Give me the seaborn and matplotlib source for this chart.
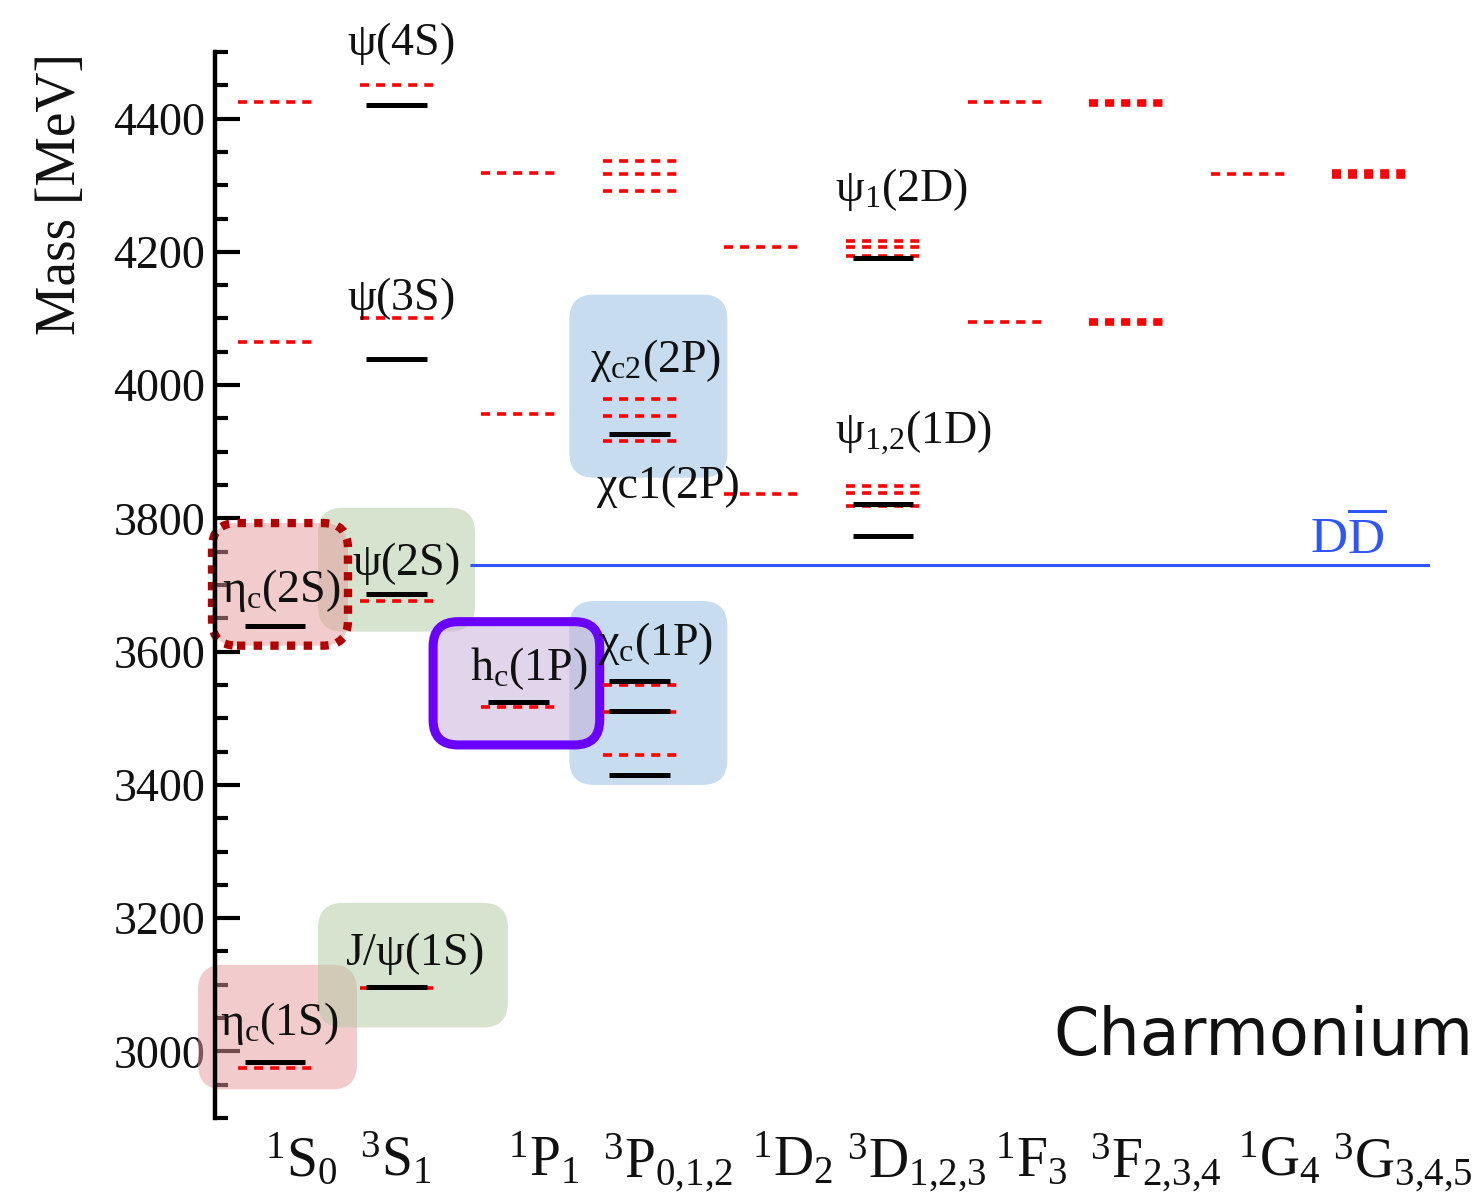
import numpy as np
import pandas as pd
import matplotlib
matplotlib.use("Agg")
import matplotlib.pyplot as plt
import seaborn as sns
from matplotlib.patches import FancyBboxPatch
from matplotlib.ticker import MultipleLocator, FixedLocator

# ---------------- data ----------------
col_labels = [r'$^{1}\mathrm{S}_{0}$', r'$^{3}\mathrm{S}_{1}$', r'$^{1}\mathrm{P}_{1}$',
              r'$^{3}\mathrm{P}_{0{,}1{,}2}$', r'$^{1}\mathrm{D}_{2}$', r'$^{3}\mathrm{D}_{1{,}2{,}3}$',
              r'$^{1}\mathrm{F}_{3}$', r'$^{3}\mathrm{F}_{2{,}3{,}4}$', r'$^{1}\mathrm{G}_{4}$',
              r'$^{3}\mathrm{G}_{3{,}4{,}5}$']
col_is_triplet = [0, 1, 0, 1, 0, 1, 0, 1, 0, 1]

# experimental levels (black solid)
exp_col  = [0, 0, 1, 1, 1, 1, 2, 3, 3, 3, 3, 5, 5, 5]
exp_mass = [2984, 3638, 3097, 3686, 4039, 4421, 3525, 3415, 3511, 3556, 3927, 3773, 3822, 4191]

# model levels (red dashed)
th_col  = [0, 0, 0,
           1, 1, 1, 1,
           2, 2, 2,
           3, 3, 3, 3, 3, 3, 3, 3, 3,
           4, 4,
           5, 5, 5, 5, 5, 5,
           6, 6,
           7, 7, 7, 7, 7, 7,
           8,
           9, 9, 9]
th_mass = [2975, 4064, 4425,
           3095, 3676, 4100, 4450,
           3517, 3956, 4318,
           3445, 3510, 3550, 3916, 3953, 3979, 4292, 4317, 4337,
           3837, 4208,
           3819, 3838, 3849, 4194, 4208, 4217,
           4094, 4425,
           4092, 4095, 4097, 4421, 4424, 4427,
           4317,
           4312, 4317, 4321]

dd_threshold = 3730

yticks_major = [3000, 3200, 3400, 3600, 3800, 4000, 4200, 4400]

# state labels: text, left x (column units), baseline mass
state_text = [r'$\mathrm{ψ(4S)}$', r'$\mathrm{ψ(3S)}$', r'$\mathrm{ψ_{1}(2D)}$',
              r'$\mathrm{χ_{c2}(2P)}$', 'χc1(2P)', r'$\mathrm{ψ_{1{,}2}(1D)}$',
              r'$\mathrm{ψ(2S)}$', r'$\mathrm{η_{c}(2S)}$', r'$\mathrm{h_{c}(1P)}$',
              r'$\mathrm{χ_{c}(1P)}$', r'$\mathrm{J/ψ(1S)}$', r'$\mathrm{η_{c}(1S)}$']
state_x = [0.592, 0.592, 4.605, 2.59, 2.648, 4.605, 0.633, -0.436, 1.604, 2.656, 0.576, -0.452]
state_y = [4495, 4112, 4277, 4019, 3830, 3913, 3715, 3675, 3558, 3595, 3130, 3025]

# highlight boxes: x0, x1, y0, y1, kind
box_x0 = [-0.633, 0.354, 0.354, -0.518, 2.42, 1.30, 2.42]
box_x1 = [0.674, 1.916, 1.645, 0.600, 3.72, 2.67, 3.72]
box_y0 = [2943, 3036, 3630, 3609, 3400, 3460, 3861]
box_y1 = [3130, 3223, 3816, 3793, 3676, 3645, 4136]
box_kind = ['red', 'green', 'green', 'red_dotted', 'blue', 'purple', 'blue']

# ---------------- style ----------------
sns.set_theme(style="white")
plt.rcParams['font.family'] = ['Liberation Serif', 'DejaVu Serif']
plt.rcParams['mathtext.fontset'] = 'custom'
plt.rcParams['mathtext.rm'] = 'Liberation Serif'
plt.rcParams['mathtext.it'] = 'Liberation Serif:italic'
plt.rcParams['mathtext.bf'] = 'Liberation Serif:bold'

fig = plt.figure(figsize=(14.81, 12.03), dpi=100)
ax = fig.add_axes([0.1452, 0.0706, 0.8204, 0.8862])
ax.set_xlim(-0.493, 9.498)
ax.set_ylim(2900, 4500)

# ---------------- boxes ----------------
fig.canvas.draw()
bb = ax.get_window_extent()
px_per_x = bb.width / (9.498 + 0.493)
px_per_y = bb.height / 1600.0
m_aspect = px_per_x / px_per_y
r = 25 / px_per_x

face = {'red': ('#e79a9a', 0.5), 'red_dotted': ('#e79a9a', 0.5),
        'green': ('#afc9a1', 0.5), 'blue': ('#91bde1', 0.5), 'purple': ('#c5add9', 0.5)}
for x0, x1, y0, y1, k in zip(box_x0, box_x1, box_y0, box_y1, box_kind):
    fc, a = face[k]
    p = FancyBboxPatch((x0, y0), x1 - x0, y1 - y0,
                       boxstyle=f"round,pad=0,rounding_size={r}",
                       mutation_aspect=m_aspect, facecolor=fc, alpha=a,
                       edgecolor='none', lw=0, zorder=1, clip_on=False)
    ax.add_patch(p)
    if k == 'red_dotted':
        e = FancyBboxPatch((x0, y0), x1 - x0, y1 - y0,
                           boxstyle=f"round,pad=0,rounding_size={r}",
                           mutation_aspect=m_aspect, facecolor='none',
                           edgecolor='#b30000', lw=6, linestyle=(0, (1, 1)),
                           zorder=1.5, clip_on=False)
        ax.add_patch(e)
    if k == 'purple':
        e = FancyBboxPatch((x0, y0), x1 - x0, y1 - y0,
                           boxstyle=f"round,pad=0,rounding_size={r}",
                           mutation_aspect=m_aspect, facecolor='none',
                           edgecolor='#6a00ff', lw=6.5, zorder=1.5, clip_on=False)
        ax.add_patch(e)

# ---------------- levels ----------------
th = pd.DataFrame({'col': th_col, 'mass': th_mass})
th['lid'] = np.arange(len(th))
seg_th = pd.concat([th.assign(x=th['col'] - 0.305), th.assign(x=th['col'] + 0.305)])
sns.lineplot(data=seg_th, x='x', y='mass', units='lid', estimator=None, sort=False,
             color='#ff0000', linewidth=2.6, linestyle=(0, (2.5, 1.95)),
             ax=ax, legend=False, zorder=2)

ex = pd.DataFrame({'col': exp_col, 'mass': exp_mass})
ex['lid'] = np.arange(len(ex))
seg_ex = pd.concat([ex.assign(x=ex['col'] - 0.25), ex.assign(x=ex['col'] + 0.25)])
sns.lineplot(data=seg_ex, x='x', y='mass', units='lid', estimator=None, sort=False,
             color='black', linewidth=3.6, solid_capstyle='butt',
             ax=ax, legend=False, zorder=2.2)

# DD threshold
ax.hlines(dd_threshold, 1.60, 9.498, color='#2f55ff', lw=2.2, zorder=2)
ax.text(8.51, 3748, r'$\mathrm{D\overline{D}}$', color='#2f55ff', fontsize=37,
        ha='left', va='baseline', zorder=4)

# labels
for t, x, y in zip(state_text, state_x, state_y):
    ax.text(x, y, t, fontsize=33, ha='left', va='baseline', color='#111111',
            zorder=4, clip_on=False)

ax.text(6.398, 2995, 'Charmonium', fontsize=47, family='DejaVu Sans',
        ha='left', va='baseline', color='#111111', zorder=4, clip_on=False)

# ---------------- axes ----------------
ax.set_xlabel('')
ax.set_ylabel('')
ax.text(-0.127, 0.867, 'Mass [MeV]', transform=ax.transAxes, rotation=90,
        ha='center', va='center', fontsize=40, color='#111111')

for s in ['top', 'right', 'bottom']:
    ax.spines[s].set_visible(False)
ax.spines['left'].set_linewidth(3.2)
ax.spines['left'].set_color('black')

ax.yaxis.set_major_locator(FixedLocator(yticks_major))
ax.yaxis.set_minor_locator(MultipleLocator(50))
ax.set_yticklabels([str(v) for v in yticks_major])
ax.tick_params(axis='y', which='major', direction='in', length=18, width=3,
               labelsize=33, pad=7, left=True, colors='black', labelcolor='#111111')
ax.tick_params(axis='y', which='minor', direction='in', length=9, width=3, left=True,
               colors='black')

xt = [i - (0.30 if t else 0.08) for i, t in enumerate(col_is_triplet)]
ax.set_xticks(xt)
ax.set_xticklabels(col_labels, ha='left')
ax.tick_params(axis='x', which='both', length=0, labelsize=40, pad=10, labelcolor='#111111')
ax.set_xlim(-0.493, 9.498)
ax.set_ylim(2900, 4500)

fig.savefig('out.png', dpi=100, facecolor='white')
